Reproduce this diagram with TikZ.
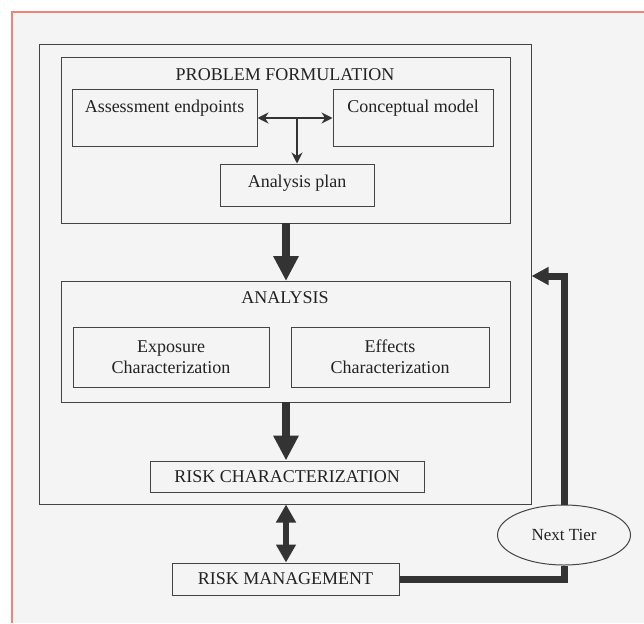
\documentclass[tikz,border=0pt]{standalone}
\usepackage{fontspec}
\setmainfont{Liberation Serif}
\usetikzlibrary{arrows.meta,shapes.geometric}
\definecolor{bg}{HTML}{F4F4F4}
\definecolor{frame}{HTML}{EE8676}
\definecolor{ink}{HTML}{444444}
\definecolor{txt}{HTML}{222222}
\definecolor{arr}{HTML}{333333}
\begin{document}
\begin{tikzpicture}[x=1pt,y=-1pt,
  box/.style={draw=ink,line width=1pt,inner sep=0pt,rectangle,text=txt},
  lbl/.style={inner sep=0pt,text=txt},
  big/.style={font=\fontsize{18}{21}\selectfont},
  thin arrow/.style={draw=arr,line width=2pt},
  thick arrow/.style={draw=arr,line width=8pt,-{Triangle[length=25pt,width=24pt]}},
  loop line/.style={draw=arr,line width=7pt,line join=miter}
]
\useasboundingbox (0,0) rectangle (644,623);
\fill[white] (0,0) rectangle (644,623);
\fill[bg] (12,12) rectangle (644,623);
\draw[frame,line width=2pt] (12,623) -- (12,12) -- (644,12);

% outer frame
\node[box,minimum width=492pt,minimum height=459pt] (outer) at (285,274.5) {};

% problem formulation
\node[box,minimum width=449pt,minimum height=165pt] (pf) at (285.5,140.5) {};
\node[lbl,big] (pft) at (285,75) {PROBLEM FORMULATION};
\node[box,big,minimum width=185pt,text height=22pt,text depth=34pt] (ae) at (164.5,118) {Assessment endpoints};
\node[box,big,minimum width=160pt,text height=22pt,text depth=34pt] (cm) at (413,118) {Conceptual model};
\node[box,big,minimum width=154pt,text height=23pt,text depth=19pt] (ap) at (297,185) {Analysis plan};
\coordinate (split) at (297,118);
\draw[thin arrow,{Stealth[length=11pt,width=11pt]}-{Stealth[length=11pt,width=11pt]}] (ae.east |- split) -- (cm.west |- split);
\draw[thin arrow,-{Stealth[length=11pt,width=11pt]}] (split) -- (ap.north);

% analysis
\node[box,minimum width=449pt,minimum height=121pt] (an) at (285.5,341.5) {};
\node[lbl,big] (ant) at (285,298) {ANALYSIS};
\node[box,big,minimum width=196pt,minimum height=60pt,align=center] (ex) at (171,357) {Exposure\\Characterization};
\node[box,big,minimum width=198pt,minimum height=60pt,align=center] (ef) at (390,357) {Effects\\Characterization};

% risk characterization / management
\node[box,big,minimum width=274pt,minimum height=31pt] (rc) at (287,476.5) {RISK CHARACTERIZATION};
\node[box,big,minimum width=227pt,minimum height=32pt] (rm) at (285.5,579) {RISK MANAGEMENT};

% next tier
\node[draw=ink,line width=1pt,ellipse,inner sep=0pt,minimum width=133pt,minimum height=60pt,text=txt,font=\fontsize{17}{19}\selectfont] (nt) at (564,535) {Next Tier};

% thick arrows
\draw[thick arrow] (286,223) -- (286,281);
\draw[thick arrow] (286,402) -- (rc.north -| 286,0);
\draw[draw=arr,line width=6pt,{Triangle[length=18pt,width=19pt]}-{Triangle[length=18pt,width=19pt]}] (outer.south -| 286,0) -- (rm.north -| 286,0);

% feedback loop
\coordinate (turn) at (564,276);
\draw[loop line] (rm.east) -- (rm.east -| nt.south) -- (nt.south);
\draw[loop line,-{Triangle[length=17pt,width=17pt]}] (nt.north) -- (turn) -- (turn -| outer.east);
\end{tikzpicture}
\end{document}
